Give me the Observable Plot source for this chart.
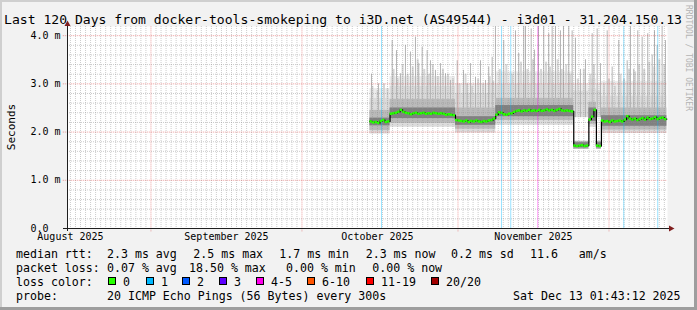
<!DOCTYPE html>
<html><head><meta charset="utf-8">
<script src="https://cdn.jsdelivr.net/npm/d3@7"></script>
<script src="https://cdn.jsdelivr.net/npm/@observablehq/plot@0.6"></script>
<style>
html,body{margin:0;padding:0;background:#f2f2f2;}
#chart{width:697px;height:310px;position:relative;overflow:hidden;}
svg text{white-space:pre;}
</style></head><body><div id="chart"></div>
<script>
// ---------- texts ----------
const title = "Last 120 Days from docker-tools-smokeping to i3D.net (AS49544) - i3d01 - 31.204.150.13";
const yLabel = "Seconds";
const watermark = "RRDTOOL / TOBI OETIKER";

// ---------- axes ----------
const xStart = new Date("2025-08-15T10:00:00Z");
const xEnd = new Date("2025-12-12T15:00:00Z");
const yDomain = [0, 4.19];
const yTicks = [0, 1, 2, 3, 4];
const yMajor = [1, 2, 3, 4];
const monthStarts = ["2025-09-01", "2025-10-01", "2025-11-01", "2025-12-01"];
const monthLabelDates = ["2025-08-16", "2025-09-16", "2025-10-16", "2025-11-16"];

// ---------- data (days since 2025-10-01 00:00 UTC) ----------
const medianStartDay = 13.5;
const medianStepDay = 0.5;
const median = [
  2.22, 2.20, 2.21, 2.19, 2.23, 2.25, 2.21, 2.22,
  2.38, 2.39, 2.40, 2.42, 2.46, 2.42, 2.40, 2.39, 2.37, 2.39, 2.40, 2.38, 2.39, 2.40, 2.38,
  2.39, 2.38, 2.40, 2.39, 2.38, 2.39, 2.38, 2.36, 2.37, 2.36, 2.35,
  2.25, 2.24, 2.23, 2.22, 2.24, 2.21, 2.23, 2.22, 2.24, 2.22, 2.21, 2.23, 2.22, 2.24, 2.25, 2.28,
  2.36, 2.41, 2.40, 2.37, 2.36, 2.38, 2.39, 2.42, 2.44, 2.45, 2.43, 2.45, 2.44, 2.46, 2.44, 2.45,
  2.44, 2.46, 2.44, 2.45, 2.47, 2.45, 2.46, 2.44, 2.46, 2.48, 2.45, 2.44, 2.45, 2.44, 2.43,
  1.72, 1.71, 1.72, 1.73, 1.71, 1.72,
  2.26, 2.32, 2.46,
  1.72, 1.71,
  2.24, 2.22, 2.23, 2.21, 2.24, 2.22, 2.23, 2.24, 2.22, 2.26, 2.33, 2.28, 2.26, 2.28, 2.25, 2.27,
  2.29, 2.26, 2.30, 2.27, 2.28, 2.31, 2.27, 2.29, 2.30, 2.27
];

// smoke bands per stretch of similar behaviour
const regimeStart = [13.5, 17.5, 30.5, 38.5, 54.0, 57.0, 58.5, 59.5];
const regimeEnd   = [17.5, 30.5, 38.5, 54.0, 57.0, 58.5, 59.5, 72.5];
const hazeHi  = [2.90, 3.15, 3.00, 3.25, 3.00, 3.10, 3.00, 3.05];
const lightLo = [1.96, 2.10, 1.98, 2.14, 2.30, 2.10, 2.30, 1.97];
const lightHi = [2.70, 2.95, 2.80, 3.00, 2.85, 2.90, 2.85, 2.75];
const midLo   = [2.03, 2.18, 2.06, 2.24, 1.64, 2.16, 1.64, 2.04];
const midHi   = [2.45, 2.68, 2.50, 2.70, 1.81, 2.62, 1.81, 2.50];
const darkLo  = [2.13, 2.28, 2.14, 2.32, 1.67, 2.22, 1.67, 2.12];
const darkHi  = [2.29, 2.50, 2.32, 2.55, 1.78, 2.50, 1.78, 2.34];

// individual high pings (max of smoke)
const tallDay = [13.81, 15.20, 17.92, 18.78, 19.57, 20.56, 21.56, 22.55, 23.21, 23.88, 24.87, 25.53, 26.52, 27.52, 28.51, 29.50,
  30.84, 32.09, 32.82, 33.49, 34.48, 35.47, 36.47, 37.11, 37.79,
  38.44, 40.09, 42.42, 43.07, 44.07, 44.41, 45.54, 46.19, 46.99, 48.04, 49.03, 49.71, 50.37, 51.36, 51.95, 53.01, 53.68,
  54.34, 55.33, 56.33,
  57.66, 58.65, 59.31, 60.64, 61.63, 62.94, 64.61, 65.27, 65.92, 66.72, 67.59, 68.70, 69.58, 70.04, 70.57, 71.56, 72.22];
const tallTop = [3.20, 3.00, 3.90, 3.69, 3.21, 3.80, 3.66, 3.97, 3.42, 3.76, 3.69, 3.48, 3.28, 3.42, 3.21, 3.07,
  3.48, 3.28, 3.00, 3.42, 3.14, 3.48, 3.07, 3.35, 3.55,
  4.19, 3.90, 4.10, 3.63, 4.19, 4.19, 4.14, 3.70, 4.19, 4.19, 4.04, 4.19, 4.19, 4.10, 4.19, 4.19, 4.10,
  3.95, 3.30, 3.50,
  4.04, 4.14, 3.42, 4.10, 3.35, 3.90, 3.48, 4.19, 3.30, 4.10, 3.97, 4.04, 3.60, 4.10, 3.80, 4.19, 3.90];
const softDay = [14.0, 15.0, 16.3, 17.0, 18.2, 19.0, 20.0, 21.0, 22.0, 23.0, 24.3, 25.2, 26.0, 27.0, 28.0, 29.0, 30.0,
  31.3, 32.5, 33.8, 35.0, 36.0, 37.3, 38.0, 39.3, 40.6, 41.8, 43.5, 44.8, 45.9, 47.5, 48.5, 49.3, 50.8, 51.6, 52.5, 53.3,
  54.8, 56.0, 57.3, 58.0, 60.0, 61.0, 62.2, 63.3, 64.0, 65.0, 66.2, 67.0, 68.0, 69.0, 70.0, 71.0, 72.0];
const softTop = [2.95, 2.85, 3.00, 2.90, 3.30, 3.10, 3.40, 3.20, 3.35, 3.50, 3.30, 3.20, 3.40, 3.15, 3.30, 3.20, 3.10,
  3.00, 3.20, 2.95, 3.10, 3.00, 3.15, 3.05, 3.30, 3.40, 3.20, 3.45, 3.30, 3.50, 3.30, 3.45, 3.35, 3.50, 3.30, 3.40, 3.20,
  3.10, 3.30, 3.20, 3.40, 3.00, 3.10, 2.95, 3.20, 3.10, 3.30, 3.25, 3.40, 3.30, 3.45, 3.35, 3.50, 3.40];

// packet loss events
const lossDay = [15.80, 39.64, 41.48, 46.85, 63.94, 70.69];
const lossCount = [1, 1, 1, 4, 1, 1];

// ---------- legend ----------
const rttStats = ["2.3 ms avg", "2.5 ms max", "1.7 ms min", "2.3 ms now", "0.2 ms sd", "11.6   am/s"];
const lossStats = ["0.07 % avg", "18.50 % max", "0.00 % min", "0.00 % now"];
const lossLabels = ["0", "1", "2", "3", "4-5", "6-10", "11-19", "20/20"];
const lossColors = ["#26ff00", "#00b8ff", "#0059ff", "#5e00ff", "#ff00ec", "#ff5500", "#ff0000", "#a10000"];
const probeText = "20 ICMP Echo Pings (56 Bytes) every 300s";
const stamp = "Sat Dec 13 01:43:12 2025";

// ---------- build ----------
const ORIGIN = Date.UTC(2025, 9, 1);
const day = d => new Date(ORIGIN + d * 864e5);

const medRows = median.map((v, i) => ({
  t0: day(medianStartDay + i * medianStepDay),
  t1: day(medianStartDay + (i + 1) * medianStepDay), v
}));
const lineRows = medRows.map(r => ({t: r.t0, v: r.v}));
lineRows.push({t: medRows[medRows.length - 1].t1, v: median[median.length - 1]});

const regimes = regimeStart.map((s, i) => ({
  s: day(s), e: day(regimeEnd[i]), hazeHi: hazeHi[i],
  lightLo: lightLo[i], lightHi: lightHi[i], midLo: midLo[i], midHi: midHi[i], darkLo: darkLo[i], darkHi: darkHi[i]
}));
const tall = tallDay.map((d, i) => ({t: day(d), top: tallTop[i]}));
const soft = softDay.map((d, i) => ({t: day(d), top: softTop[i]}));
const bucket = n => n <= 0 ? 0 : n === 1 ? 1 : n === 2 ? 2 : n === 3 ? 3 : n <= 5 ? 4 : n <= 10 ? 5 : n <= 19 ? 6 : 7;
const losses = lossDay.map((d, i) => ({t: day(d), c: lossColors[bucket(lossCount[i])]}));

const monthStartDates = monthStarts.map(s => new Date(s + "T00:00:00Z"));
const labelDates = monthLabelDates.map(s => new Date(s + "T00:00:00Z"));
const minorDays = d3.utcDay.range(xStart, xEnd).filter(d => d.getUTCDate() !== 1);
const minorY = d3.range(1, 21).map(k => k / 5).filter(v => Math.abs(v - Math.round(v)) > 1e-6);
const leftTick = d3.utcHour.offset(xStart, -20);
const yFmt = v => v === 0 ? "0.0" : v.toFixed(1) + " m";

const gridMinor = {stroke: "#8f8f8f", strokeOpacity: 0.45, strokeDasharray: "1,1"};
const gridMajor = {stroke: "#de4f4f", strokeOpacity: 0.55, strokeDasharray: "1,1"};

const chart = Plot.plot({
  width: 697, height: 310,
  marginTop: 26, marginRight: 30, marginBottom: 82, marginLeft: 67,
  style: {background: "transparent", fontFamily: "'DejaVu Sans Mono', monospace", fontSize: "10px", color: "#000", overflow: "visible"},
  x: {type: "utc", domain: [xStart, xEnd]},
  y: {domain: yDomain},
  marks: [
    Plot.frame({fill: "#ffffff", stroke: null}),
    Plot.rect(regimes, {x1: "s", x2: "e", y1: "lightHi", y2: "hazeHi", fill: "#ececec"}),
    Plot.rect(regimes, {x1: "s", x2: "e", y1: "lightLo", y2: "lightHi", fill: "#dcdcdc"}),
    Plot.ruleX(soft, {x: "t", y1: () => 2.3, y2: "top", stroke: "#d6d6d6", strokeWidth: 2}),
    Plot.ruleX(tall, {x: "t", y1: () => 2.3, y2: "top", stroke: "#b4b4b4", strokeWidth: 1}),
    Plot.rect(regimes, {x1: "s", x2: "e", y1: "midLo", y2: "midHi", fill: "#bababa"}),
    Plot.rect(regimes, {x1: "s", x2: "e", y1: "darkLo", y2: "darkHi", fill: "#808080"}),
    Plot.ruleX(minorDays, gridMinor),
    Plot.ruleY(minorY, gridMinor),
    Plot.ruleX(monthStartDates, {...gridMajor, y1: () => -0.07, y2: () => yDomain[1]}),
    Plot.ruleY(yMajor, {...gridMajor, x1: () => leftTick, x2: () => xEnd}),
    Plot.ruleX(losses, {x: "t", stroke: "c", strokeOpacity: 0.4}),
    Plot.line(lineRows, {x: "t", y: "v", curve: "step-after", stroke: "#000", strokeWidth: 1.2}),
    Plot.ruleY(medRows, {x1: "t0", x2: "t1", y: "v", stroke: "#26ff00", strokeWidth: 2.5}),
    Plot.axisY({ticks: yTicks, tickSize: 0, tickPadding: 37, textAnchor: "start", tickFormat: yFmt, fontSize: 10, label: null}),
    Plot.axisX({ticks: labelDates, tickFormat: d3.utcFormat("%B %Y"), tickSize: 0, tickPadding: 4.5, fontSize: 10, label: null})
  ]
});
document.getElementById("chart").append(chart);

// ---------- frame decorations, title, legend ----------
const xs = chart.scale("x"), ys = chart.scale("y");
const pxLeft = xs.apply(xStart), pxRight = xs.apply(xEnd), pxBottom = ys.apply(0), pxTop = ys.apply(yDomain[1]);
const svg = d3.select(chart);
const deco = svg.append("g");
// axis lines and arrows
deco.append("line").attr("x1", pxLeft - 4).attr("x2", pxRight + 2).attr("y1", pxBottom + 0.5).attr("y2", pxBottom + 0.5)
  .attr("stroke", "#1f1f1f");
deco.append("line").attr("x1", pxLeft + 0.5).attr("x2", pxLeft + 0.5).attr("y1", pxBottom + 3).attr("y2", pxTop - 1)
  .attr("stroke", "#1f1f1f");
deco.append("path").attr("fill", "#801f1f")
  .attr("d", `M${pxRight + 2},${pxBottom - 2.5}L${pxRight + 7.5},${pxBottom + 0.5}L${pxRight + 2},${pxBottom + 3.5}Z`);
deco.append("path").attr("fill", "#801f1f")
  .attr("d", `M${pxLeft - 2.5},${pxTop}L${pxLeft + 0.5},${pxTop - 5.5}L${pxLeft + 3.5},${pxTop}Z`);
// 3D border
deco.append("rect").attr("x", 0).attr("y", 0).attr("width", 697).attr("height", 2).attr("fill", "#cfcfcf");
deco.append("rect").attr("x", 0).attr("y", 0).attr("width", 2).attr("height", 310).attr("fill", "#cfcfcf");
deco.append("rect").attr("x", 0).attr("y", 307).attr("width", 697).attr("height", 3).attr("fill", "#9e9e9e");
deco.append("rect").attr("x", 694).attr("y", 0).attr("width", 3).attr("height", 310).attr("fill", "#9e9e9e");

const txt = svg.append("g").attr("font-family", "'DejaVu Sans Mono', monospace").attr("fill", "#000")
  .attr("text-anchor", "start");
txt.append("text").attr("x", 4).attr("y", 23.5).attr("font-size", "13.1px").text(title);
txt.append("text").attr("transform", "translate(14.5,127) rotate(-90)").attr("text-anchor", "middle")
  .attr("font-size", "11px").text(yLabel);
txt.append("text").attr("transform", "translate(685.5,5) rotate(90)").attr("font-size", "8px")
  .attr("fill", "#b4b4b4").text(watermark);

const lf = "11.6px";
const rows = [257.5, 271.5, 285.5, 299.5];
const put = (x, y, s) => txt.append("text").attr("x", x).attr("y", y).attr("font-size", lf).text(s);
put(16, rows[0], "median rtt:");
[107, 193.3, 279.3, 365.7, 451, 530].forEach((x, i) => put(x, rows[0], rttStats[i]));
put(16, rows[1], "packet loss:");
[107, 189, 286, 372.3].forEach((x, i) => put(x, rows[1], lossStats[i]));
put(16, rows[2], "loss color:");
[108, 146, 182, 219, 256, 307, 366, 431].forEach((x, i) => {
  txt.append("rect").attr("x", x + 0.5).attr("y", 277.5).attr("width", 7).attr("height", 7)
    .attr("fill", lossColors[i]).attr("stroke", "#000").attr("stroke-width", 1);
  put(x + 15, rows[2], lossLabels[i]);
});
put(16, rows[3], "probe:");
put(107, rows[3], probeText);
put(513, rows[3], stamp);
</script>
</body></html>
